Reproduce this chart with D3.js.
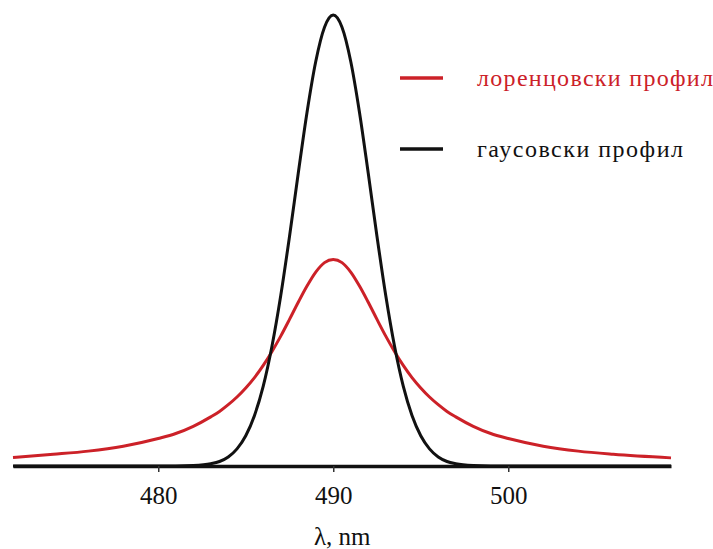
<!DOCTYPE html>
<html>
<head>
<meta charset="utf-8">
<script src="https://cdn.jsdelivr.net/npm/d3@7"></script>
<style>
  html, body { margin: 0; padding: 0; background: #fff; }
  svg { display: block; }
</style>
</head>
<body>
<svg id="chart" width="713" height="549"></svg>
<script>
// Wavelength grid (nm)
const wavelengths = [471.7, 474, 476, 478, 480, 481, 482, 483, 483.5, 484, 484.5, 485, 485.5, 486, 486.5,
  487, 487.5, 488, 488.5, 489, 489.5, 490, 490.5, 491, 491.5, 492, 492.5, 493, 493.5, 494,
  494.5, 495, 495.5, 496, 496.5, 497, 498, 499, 500, 502, 504, 506, 509.3];

// Lorentzian line profile (relative intensity)
const lorentzValues = [0.019, 0.026, 0.033, 0.044, 0.061, 0.072, 0.088, 0.109, 0.121, 0.136, 0.153, 0.173, 0.196, 0.223, 0.254,
  0.288, 0.325, 0.363, 0.399, 0.430, 0.451, 0.458, 0.451, 0.430, 0.399, 0.363, 0.325, 0.288, 0.254, 0.223,
  0.196, 0.173, 0.153, 0.136, 0.121, 0.109, 0.088, 0.072, 0.061, 0.044, 0.033, 0.026, 0.018];

// Gaussian line profile (relative intensity)
const gaussValues = [0, 0, 0, 0, 0, 0, 0.001, 0.005, 0.010, 0.020, 0.038, 0.067, 0.112, 0.177, 0.266,
  0.378, 0.509, 0.649, 0.784, 0.897, 0.973, 1.0, 0.973, 0.897, 0.784, 0.649, 0.509, 0.378, 0.266, 0.177,
  0.112, 0.067, 0.038, 0.020, 0.010, 0.005, 0.001, 0, 0, 0, 0, 0, 0];

const xTicks = [480, 490, 500];
const seriesNames = ["лоренцовски профил", "гаусовски профил"];
const seriesColors = ["#cc2128", "#111111"];
const axisTitle = "λ, nm";

const fontStack = "'Times New Roman', 'Liberation Serif', Tinos, 'Noto Serif', 'DejaVu Serif', 'Liberation Sans', sans-serif";
const svg = d3.select("#chart");

const x = d3.scaleLinear().domain([471.7, 509.3]).range([13, 671]);
const y = d3.scaleLinear().domain([0, 1]).range([466, 15]);

const line = (vals) => d3.line()
  .x((d, i) => x(wavelengths[i]))
  .y(d => y(d))
  .curve(d3.curveMonotoneX)(vals);

// Profiles
svg.append("path")
  .attr("d", line(lorentzValues))
  .attr("fill", "none")
  .attr("stroke", seriesColors[0])
  .attr("stroke-width", 3);

svg.append("path")
  .attr("d", line(gaussValues))
  .attr("fill", "none")
  .attr("stroke", seriesColors[1])
  .attr("stroke-width", 3);

// Wavelength axis
const axis = svg.append("g")
  .attr("transform", "translate(0,466)")
  .call(d3.axisBottom(x).tickValues(xTicks).tickSize(6).tickSizeOuter(0).tickPadding(14).tickFormat(d3.format("d")));

axis.attr("font-family", fontStack);
axis.select(".domain").attr("stroke", "#111").attr("stroke-width", 3.5);
axis.selectAll(".tick line").attr("stroke", "#333").attr("stroke-width", 1.5);
axis.selectAll(".tick text")
  .attr("font-size", 25)
  .attr("fill", "#111");

svg.append("text")
  .attr("x", x(490) + 9)
  .attr("y", 545)
  .attr("text-anchor", "middle")
  .attr("font-family", fontStack)
  .attr("font-size", 25)
  .attr("fill", "#111")
  .text(axisTitle);

// Legend
const legend = svg.append("g").attr("font-family", fontStack);
const legendY = [78, 149];
const legendTextWidth = [236, 206];
seriesNames.forEach((name, i) => {
  legend.append("line")
    .attr("x1", 400).attr("x2", 443)
    .attr("y1", legendY[i]).attr("y2", legendY[i])
    .attr("stroke", seriesColors[i])
    .attr("stroke-width", 3.5);
  legend.append("text")
    .attr("x", 477)
    .attr("y", legendY[i] + 8)
    .attr("font-size", 24)
    .attr("textLength", legendTextWidth[i])
    .attr("lengthAdjust", "spacing")
    .attr("fill", seriesColors[i])
    .text(name);
});
</script>
</body>
</html>
